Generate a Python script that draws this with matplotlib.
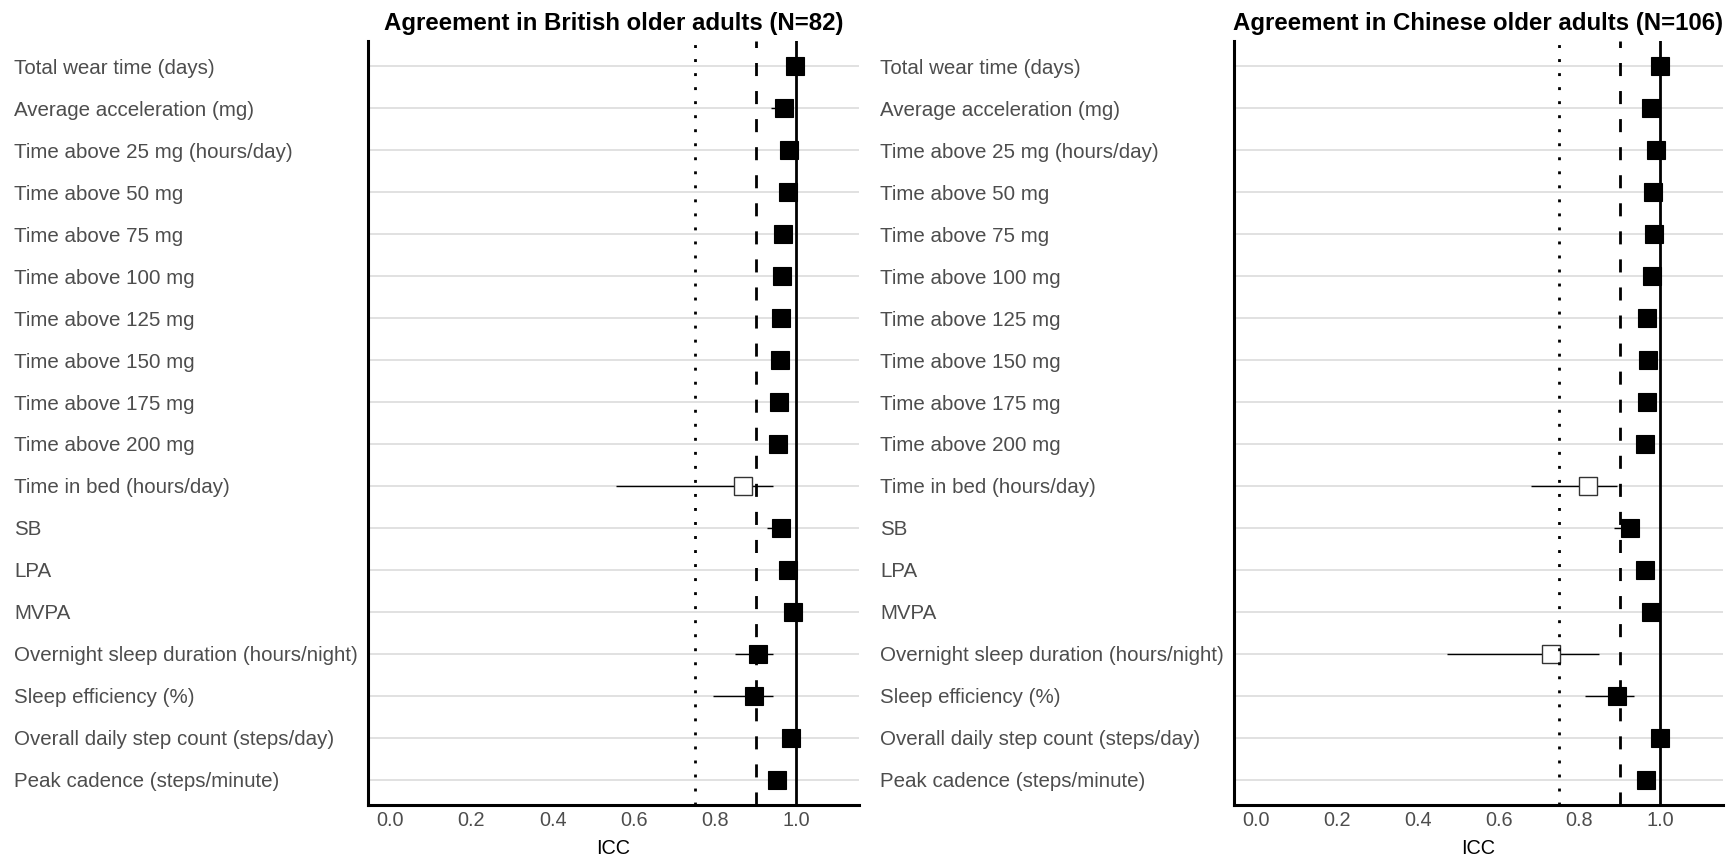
import numpy as np
import matplotlib
matplotlib.use("Agg")
import matplotlib.pyplot as plt

# ---- data ----
labels = [
    "Total wear time (days)",
    "Average acceleration (mg)",
    "Time above 25 mg (hours/day)",
    "Time above 50 mg",
    "Time above 75 mg",
    "Time above 100 mg",
    "Time above 125 mg",
    "Time above 150 mg",
    "Time above 175 mg",
    "Time above 200 mg",
    "Time in bed (hours/day)",
    "SB",
    "LPA",
    "MVPA",
    "Overnight sleep duration (hours/night)",
    "Sleep efficiency (%)",
    "Overall daily step count (steps/day)",
    "Peak cadence (steps/minute)",
]

uk_icc = [0.998, 0.969, 0.983, 0.979, 0.968, 0.965, 0.963, 0.961, 0.958,
          0.956, 0.868, 0.964, 0.981, 0.992, 0.907, 0.897, 0.988, 0.953]
uk_low = [0.990, 0.938, 0.970, 0.965, 0.950, 0.947, 0.944, 0.940, 0.937,
          0.935, 0.555, 0.928, 0.970, 0.987, 0.850, 0.794, 0.980, 0.930]
uk_high = [1.000, 0.985, 0.990, 0.988, 0.980, 0.978, 0.976, 0.975, 0.973,
           0.971, 0.944, 0.981, 0.988, 0.995, 0.942, 0.943, 0.993, 0.970]
uk_filled = [True] * 10 + [False] + [True] * 7

cn_icc = [0.999, 0.978, 0.988, 0.981, 0.984, 0.980, 0.968, 0.970, 0.968,
          0.962, 0.820, 0.924, 0.962, 0.978, 0.730, 0.893, 0.999, 0.964]
cn_low = [0.995, 0.965, 0.980, 0.970, 0.975, 0.970, 0.953, 0.956, 0.953,
          0.945, 0.680, 0.885, 0.945, 0.968, 0.473, 0.814, 0.995, 0.950]
cn_high = [1.000, 0.986, 0.992, 0.988, 0.990, 0.987, 0.978, 0.980, 0.978,
           0.974, 0.893, 0.946, 0.974, 0.985, 0.847, 0.936, 1.000, 0.975]
cn_filled = [True] * 10 + [False, True, True, True, False, True, True, True]

ref_lines = [0.75, 0.9, 1.0]
x_ticks = [0.0, 0.2, 0.4, 0.6, 0.8, 1.0]

plt.rcParams['font.family'] = ['Liberation Sans', 'DejaVu Sans']
plt.rcParams['lines.scale_dashes'] = False

W, H = 1735, 857
fig = plt.figure(figsize=(W / 100, H / 100), dpi=100)

LABEL_GREY = "#4D4D4D"


def draw_panel(ax, title, icc, low, high, filled):
    n = len(labels)
    ypos = np.arange(n, 0, -1)  # first label on top

    for y in ypos:
        ax.axhline(y, color="#D9D9D9", lw=1.1, zorder=0)

    ax.hlines(ypos, low, high, color="black", lw=1.0, zorder=2)

    icc = np.array(icc)
    filled = np.array(filled)
    ax.plot(icc[filled], ypos[filled], "s", ms=13.2, mfc="black", mec="black",
            mew=0.8, zorder=3)
    ax.plot(icc[~filled], ypos[~filled], "s", ms=13.4, mfc="white", mec="#333333",
            mew=1.0, zorder=3)

    ax.axvline(ref_lines[0], color="black", lw=2.0, ls=(0, (2.1, 8.0)), zorder=4)
    ax.axvline(ref_lines[1], color="black", lw=2.0, ls=(0, (9.4, 10.8)), zorder=4)
    ax.axvline(ref_lines[2], color="black", lw=2.0, zorder=4)

    ax.set_xlim(-0.055, 1.155)
    ax.set_ylim(0.4, n + 0.6)
    ax.set_xticks(x_ticks)
    ax.set_xticklabels([f"{t:.1f}" for t in x_ticks])
    ax.set_yticks(ypos)
    ax.set_yticklabels(labels)
    ax.tick_params(axis="y", length=0, pad=254.9, labelsize=14.8,
                   labelcolor=LABEL_GREY)
    for lab in ax.get_yticklabels():
        lab.set_horizontalalignment("left")
    ax.tick_params(axis="x", length=0, pad=4.5, labelsize=14.3,
                   labelcolor=LABEL_GREY)
    ax.set_xlabel("ICC", fontsize=14.3, color="black", labelpad=6)

    for side in ["top", "right"]:
        ax.spines[side].set_visible(False)
    for side in ["left", "bottom"]:
        ax.spines[side].set_linewidth(2.2)
        ax.spines[side].set_color("black")

    ax.set_title(title, fontsize=17.3, fontweight="bold", pad=8)


bottom = 1 - 805 / H
top = 1 - 41 / H
ax1 = fig.add_axes([368 / W, bottom, (859 - 368) / W, top - bottom])
ax2 = fig.add_axes([1234 / W, bottom, (1723 - 1234) / W, top - bottom])

draw_panel(ax1, "Agreement in British older adults (N=82)",
           uk_icc, uk_low, uk_high, uk_filled)
draw_panel(ax2, "Agreement in Chinese older adults (N=106)",
           cn_icc, cn_low, cn_high, cn_filled)

fig.savefig("out.png", dpi=100, facecolor="white")
